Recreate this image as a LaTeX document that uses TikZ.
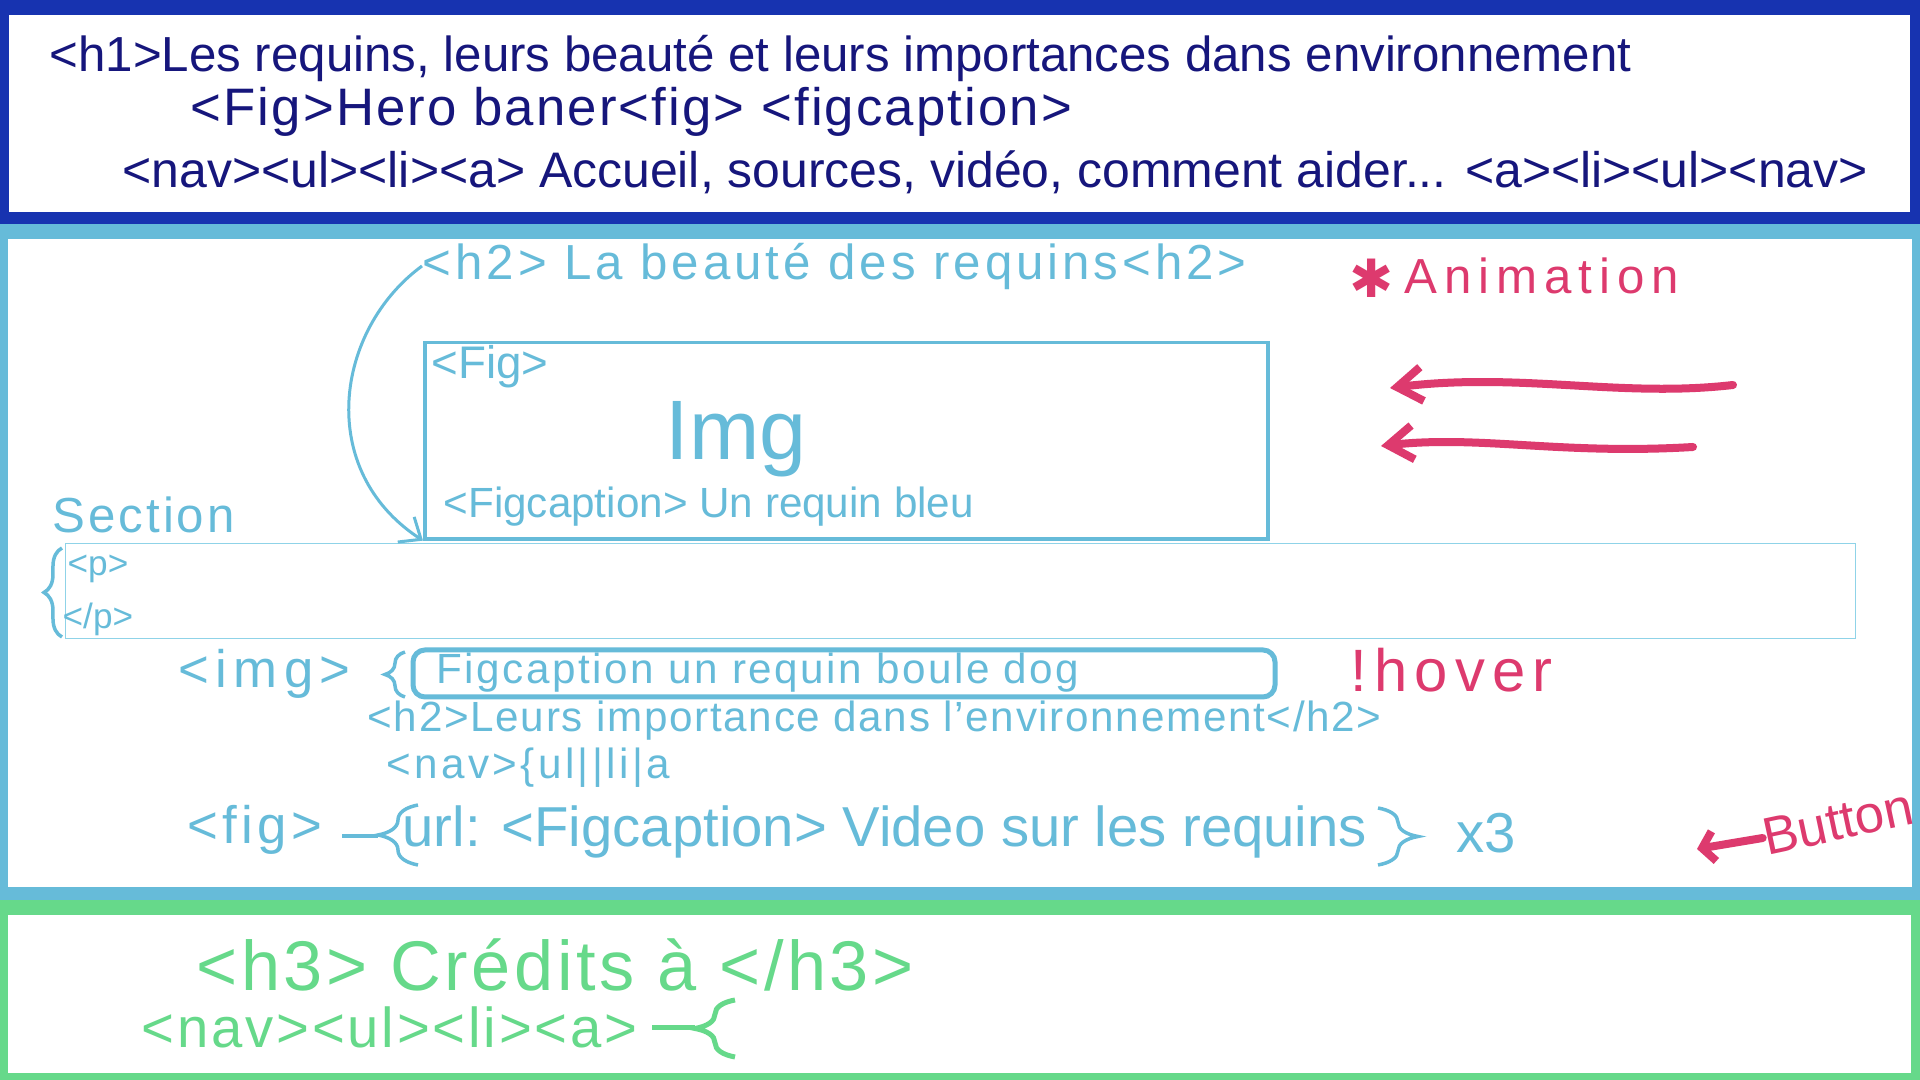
\documentclass[tikz,border=0pt]{standalone}
\usepackage{fontspec}
\setmainfont{Liberation Sans}
\newfontfamily\symfont{DejaVu Sans}
\usetikzlibrary{arrows.meta,decorations.pathreplacing}
\definecolor{hdrblue}{HTML}{1733B0}
\definecolor{inknavy}{HTML}{16167C}
\definecolor{secblue}{HTML}{66BBD9}
\definecolor{thinblue}{HTML}{8FD3E8}
\definecolor{ftgreen}{HTML}{66D98A}
\definecolor{inkpink}{HTML}{DD3A6E}
\begin{document}
\begin{tikzpicture}[x=0.01cm,y=-0.01cm]
  \tikzset{hw/.style={inner sep=0pt,anchor=west},
    fs/.style={font=\fontsize{#1pt}{#1pt}\selectfont},
    fsl/.style 2 args={font=\fontsize{#1pt}{#1pt}\selectfont\addfontfeatures{LetterSpace=#2}},
    navyink/.style={text=inknavy},
    blueink/.style={text=secblue},
    greenink/.style={text=ftgreen},
    pinkink/.style={text=inkpink},
    bracebl/.style={draw=secblue,line width=0.035cm,decorate,decoration={brace,amplitude=#1}},
    pinkline/.style={draw=inkpink,line width=0.08cm,line cap=round,line join=round}}
  \useasboundingbox (0,0) rectangle (1920,1080);
  \fill[hdrblue] (0,0) rectangle (1920,224);
  \fill[white] (9,15) rectangle (1910,212);
  \fill[secblue] (0,224) rectangle (1920,900);
  \fill[white] (8,239) rectangle (1912,887);
  \fill[ftgreen] (0,900) rectangle (1920,1080);
  \fill[white] (8,915) rectangle (1911,1073);
  \node[hw,navyink,fs=14] (h1line) at (49,58) {<h1>Les requins, leurs beauté et leurs importances dans environnement};
  \node[hw,navyink,fsl={15}{4}] (figline) at (190,112) {<Fig>Hero baner<fig> <figcaption>};
  \node[hw,navyink,fs=14.2] (navline) at (122,172) {<nav><ul><li><a> Accueil, sources, vidéo, comment aider... <a><li><ul><nav>};
  \node[hw,blueink,fsl={14}{8}] (h2beaute) at (422,266) {<h2> La beauté des requins<h2>};
  \node[inner sep=0pt,pinkink,fs=15] (animstar) at (1372,278) {\symfont ✱};
  \node[hw,pinkink,fsl={14}{14}] (animtxt) at (1404,276) {Animation};
  \node[draw=secblue,line width=0.035cm,minimum width=8.43cm,minimum height=1.96cm,anchor=north west] (figbox) at (423,341) {};
  \node[hw,blueink,fs=13] (figtag) at (431,367) {<Fig>};
  \node[inner sep=0pt,anchor=base,blueink,fs=24] (imgtxt) at (736,460) {Img};
  \node[hw,blueink,fs=12] (capbleu) at (443,507) {<Figcaption> Un requin bleu};
  \draw[thinblue,line width=0.01cm] (65,544) rectangle (1855,639);
  \node[hw,blueink,fsl={14}{6}] (sectxt) at (52,515) {Section};
  \node[hw,blueink,fs=10] (popen) at (67,569) {<p>};
  \node[hw,blueink,fs=10] (pclose) at (62,619) {</p>};
  \draw[bracebl=0.18cm] (62,637) -- (62,548);
  \draw[secblue,line width=0.03cm,-{Straight Barb[length=0.18cm,width=0.3cm]}] (h2beaute.west) .. controls (335,330) and (315,470) .. (figbox.south west);
  \node[hw,blueink,fsl={15}{12}] (imgtag) at (178,674) {<img>};
  \draw[bracebl=0.2cm] (405,697) -- (405,652);
  \draw[secblue,line width=0.05cm,rounded corners=0.12cm] (413,650) rectangle (1275,697);
  \node[hw,blueink,fsl={12}{6}] (bouledog) at (436,673) {Figcaption un requin boule dog};
  \node[hw,pinkink,fsl={17}{12}] (hover) at (1350,670) {!hover};
  \node[hw,blueink,fsl={12}{4}] (h2env) at (367,721) {<h2>Leurs importance dans l'environnement</h2>};
  \node[hw,blueink,fsl={12}{8}] (navsmall) at (386,768) {<nav>\{ul||li|a};
  \node[hw,blueink,fsl={15}{8}] (figsmall) at (187,830) {<fig>};
  \draw[bracebl=0.4cm] (418,865) -- (418,805);
  \draw[secblue,line width=0.035cm] (342,836) -- (378,836);
  \node[hw,blueink,fs=16] (urltxt) at (402,832) {url: <Figcaption> Video sur les requins};
  \draw[bracebl=0.4cm] (1378,808) -- (1378,865);
  \node[hw,blueink,fs=16] (times) at (1456,833) {x3};
  \coordinate (a1tail) at (1733,385);
  \coordinate (a1tip) at (1390,388);
  \coordinate (a2tail) at (1693,447);
  \coordinate (a2tip) at (1381,446);
  \draw[pinkline,-{Straight Barb[length=0.25cm,width=0.34cm]}] (a1tail) .. controls (1620,398) and (1520,372) .. (a1tip);
  \draw[pinkline,-{Straight Barb[length=0.25cm,width=0.34cm]}] (a2tail) .. controls (1560,455) and (1480,435) .. (a2tip);
  \node[pinkink,fs=15,inner sep=0pt,rotate=12] (button) at (1838,822) {Button};
  \coordinate (btntip) at (1697,849);
  \draw[pinkline,-{Straight Barb[length=0.12cm,width=0.3cm]}] (button.west) -- (btntip);
  \node[hw,greenink,fsl={20}{5}] (h3txt) at (196,965) {<h3> Crédits à </h3>};
  \node[hw,greenink,fsl={16}{5}] (navfoot) at (141,1027) {<nav><ul><li><a>};
  \draw[ftgreen,line width=0.05cm,decorate,decoration={brace,amplitude=0.4cm}] (735,1057) -- (735,1000);
  \draw[ftgreen,line width=0.05cm] (652,1028) -- (695,1028);
\end{tikzpicture}
\end{document}
